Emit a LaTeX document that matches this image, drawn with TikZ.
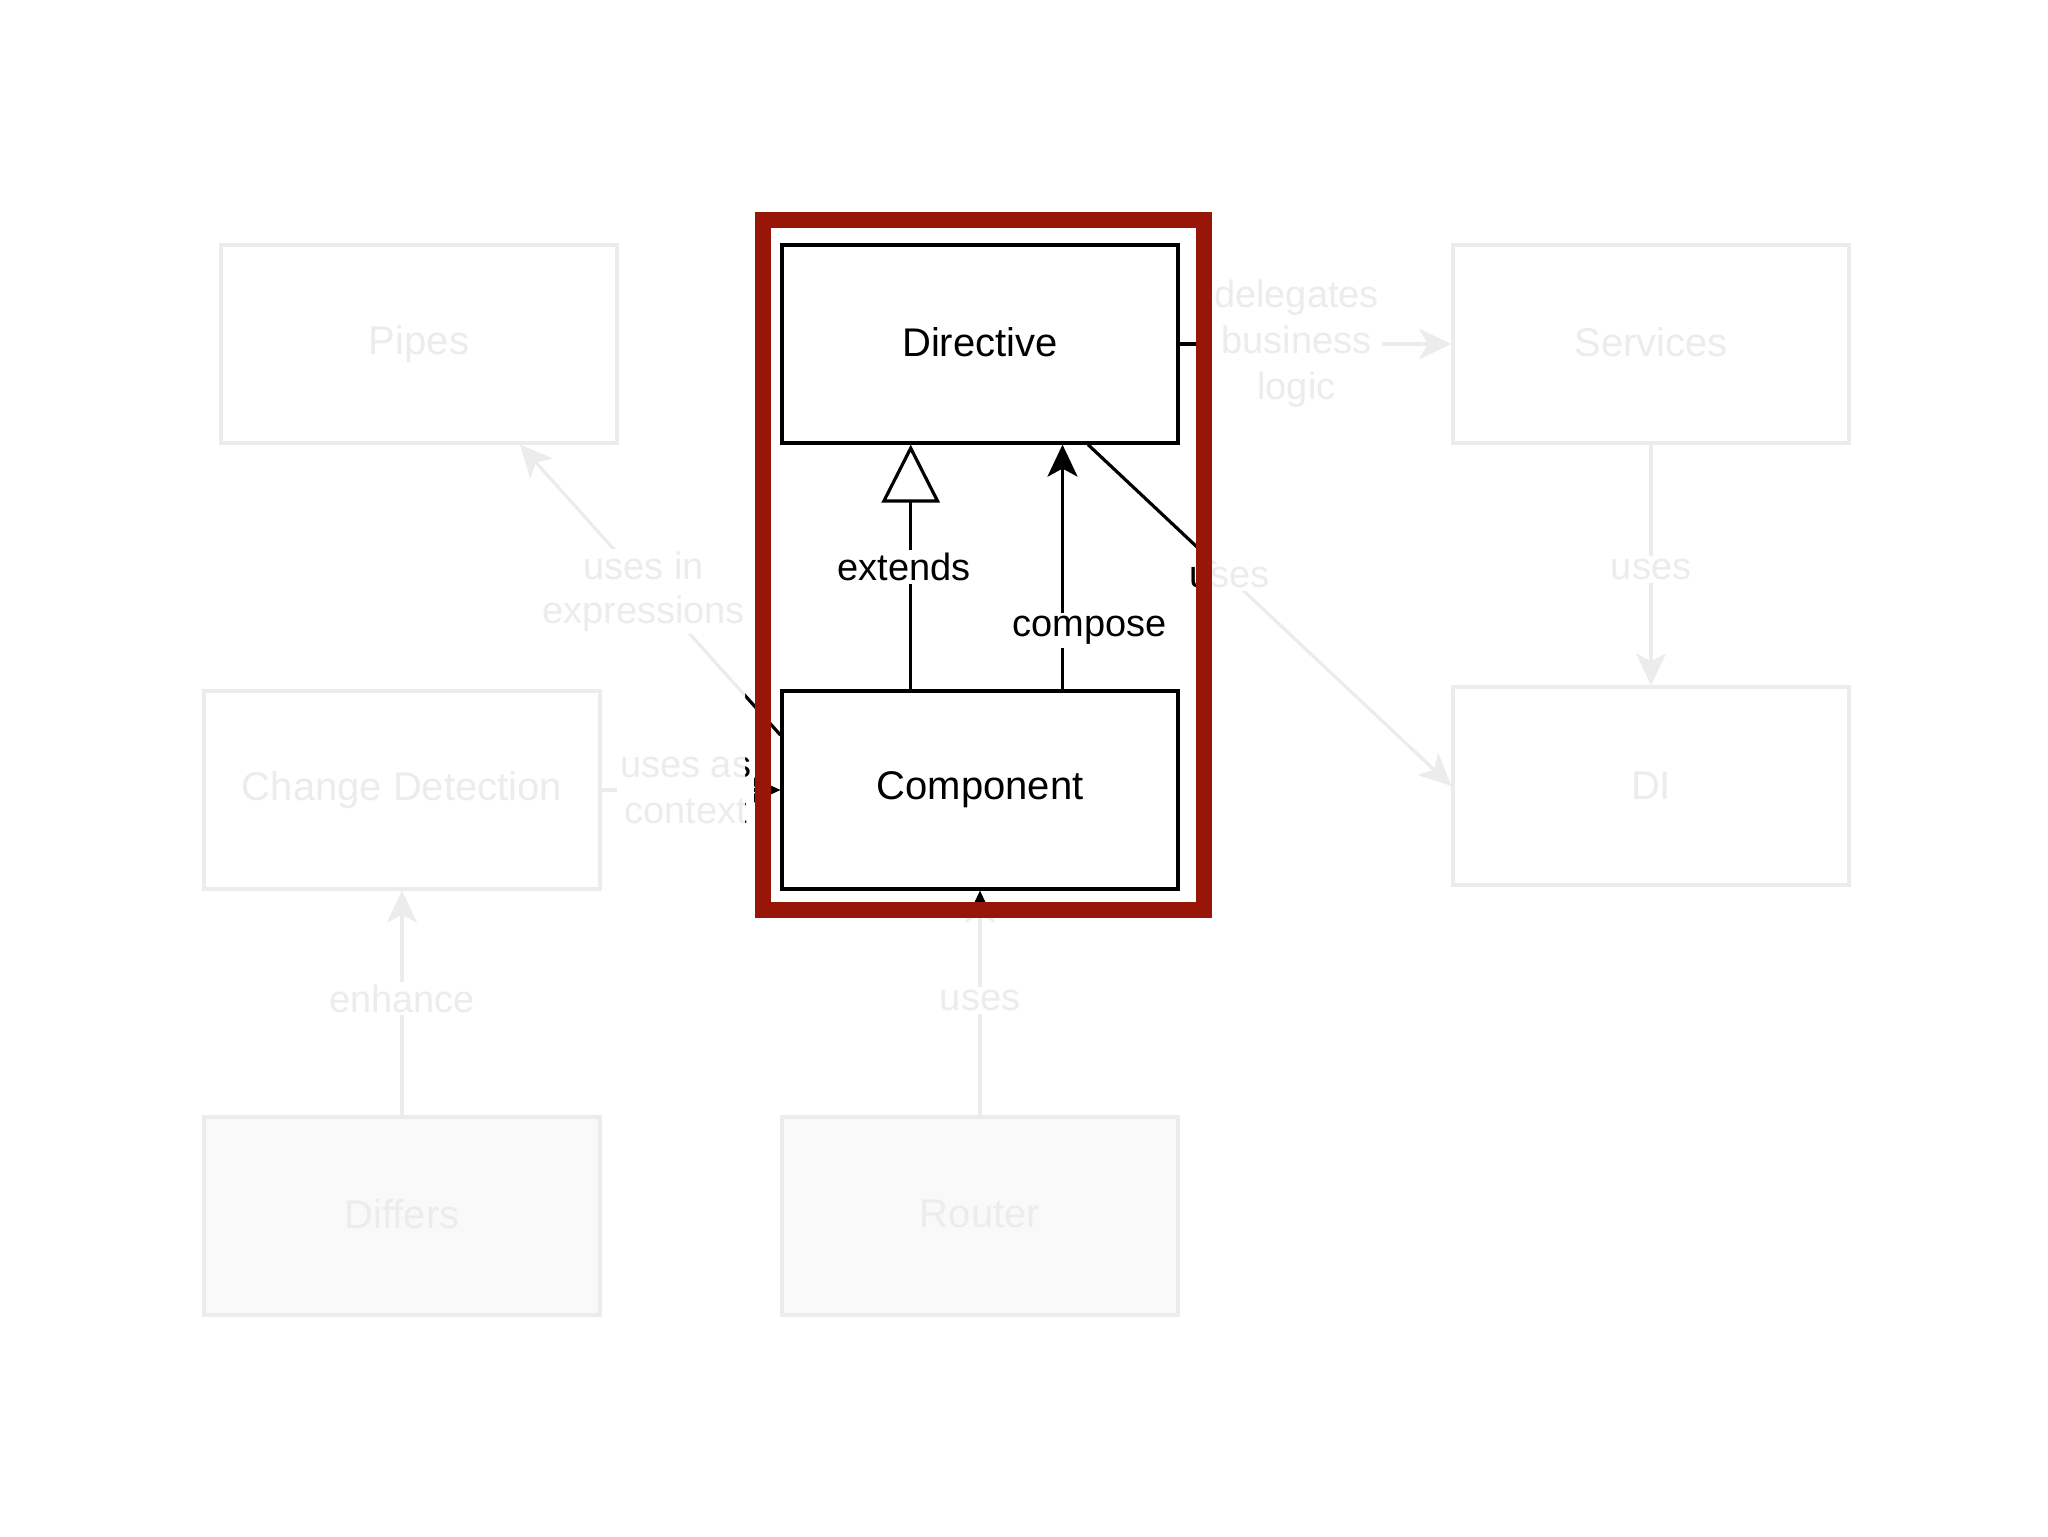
\documentclass[tikz,border=0pt]{standalone}
\usepackage{fontspec}
\setmainfont{Liberation Sans}
\usetikzlibrary{arrows.meta}
\definecolor{hlred}{RGB}{152,22,8}
\begin{document}
\begin{tikzpicture}[x=0.5pt,y=-0.5pt,
  box/.style={draw=black, line width=1.6pt, minimum width=198pt, minimum height=99pt,
    inner sep=0pt, font=\fontsize{20}{24}\selectfont},
  fbox/.style={box, fill=black!30},
  lbl/.style={fill=white, inner sep=1.5pt, align=center, font=\fontsize{19}{23}\selectfont},
  edge/.style={line width=1.6pt, -{Stealth[length=16pt,width=15pt,inset=4pt]}},
  ext/.style={line width=1.6pt, -{Triangle[length=29pt,width=29pt,fill=white]}}]
\useasboundingbox (0,0) rectangle (2048,1536);
\fill[white] (0,0) rectangle (2048,1536);

% boxes
\node[box] (pipes) at (419,344) {\raisebox{1.5pt}{Pipes}};
\node[box] (directive) at (980,344) {\raisebox{1.5pt}{Directive}};
\node[box] (services) at (1651,344) {\raisebox{1.5pt}{Services}};
\node[box] (cd) at (402,790) {Change Detection};
\node[box] (component) at (980,790) {Component};
\node[box] (di) at (1651,786) {DI};
\node[fbox] (differs) at (402,1216) {\raisebox{2pt}{Differs}};
\node[fbox] (router) at (980,1216) {\raisebox{2pt}{Router}};

% connectors
\draw[ext] ([xshift=-34.65pt]component.north) -- node[lbl, pos=0.5, xshift=-3.3pt] {extends} ([xshift=-34.65pt]directive.south);
\draw[edge] ([xshift=41.25pt]component.north) -- node[lbl, pos=0.24, xshift=13.5pt] {compose} ([xshift=41.25pt]directive.south);
\draw[edge] ([xshift=54pt]directive.south) -- node[lbl, pos=0.39] {uses} (di.west);
\draw[edge] (directive.east) -- node[lbl, pos=0.43] {delegates\\business\\logic} (services.west);
\draw[edge] ([yshift=27.5pt]component.west) -- node[lbl, pos=0.495, xshift=-4pt, font=\fontsize{19}{22}\selectfont] {uses in\\expressions} ([xshift=50.5pt]pipes.south);
\draw[edge] (cd.east) -- node[lbl, pos=0.47] {uses as\\context} (component.west);
\draw[edge] (differs.north) -- node[lbl, pos=0.52] {enhance} (cd.south);
\draw[edge] (router.north) -- node[lbl, pos=0.51] {uses} (component.south);
\draw[edge] (services.south) -- node[lbl, pos=0.52] {uses} (di.north);

% fade everything outside the highlight
\fill[white, fill opacity=0.925, even odd rule] (0,0) rectangle (2048,1536) (745,205) rectangle (1204,912);

% highlight frame
\draw[hlred, line width=8pt] (763,219.5) rectangle (1204,910.3);
\end{tikzpicture}
\end{document}
